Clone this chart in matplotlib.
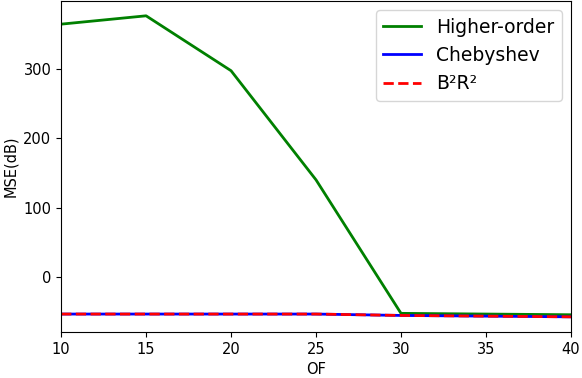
import matplotlib
matplotlib.use("Agg")
import matplotlib.pyplot as plt

of = [10, 15, 20, 25, 30, 35, 40]
higher_order = [364, 376, 297, 140, -52, -53, -54]
chebyshev = [-53, -53, -53, -53, -55, -56, -57]
b2r2 = [-53, -53, -53, -53, -55, -56, -57]

fig = plt.figure(figsize=(5.82, 3.78), dpi=100)
ax = fig.add_axes([0.105, 0.122, 0.876, 0.876])
ax.plot(of, higher_order, color="green", label="Higher-order", linewidth=2)
ax.plot(of, chebyshev, color="blue", label="Chebyshev", linewidth=2)
ax.plot(of, b2r2, color="red", linestyle="--", label="B²R²", linewidth=2)
ax.set_xlim(10, 40)
ax.set_xlabel("OF", fontsize=10.5)
ax.set_ylabel("MSE(dB)", fontsize=10.5)
ax.tick_params(labelsize=10.5)
ax.legend(fontsize=13.5, loc="upper right")
fig.savefig("out.png", dpi=100)
